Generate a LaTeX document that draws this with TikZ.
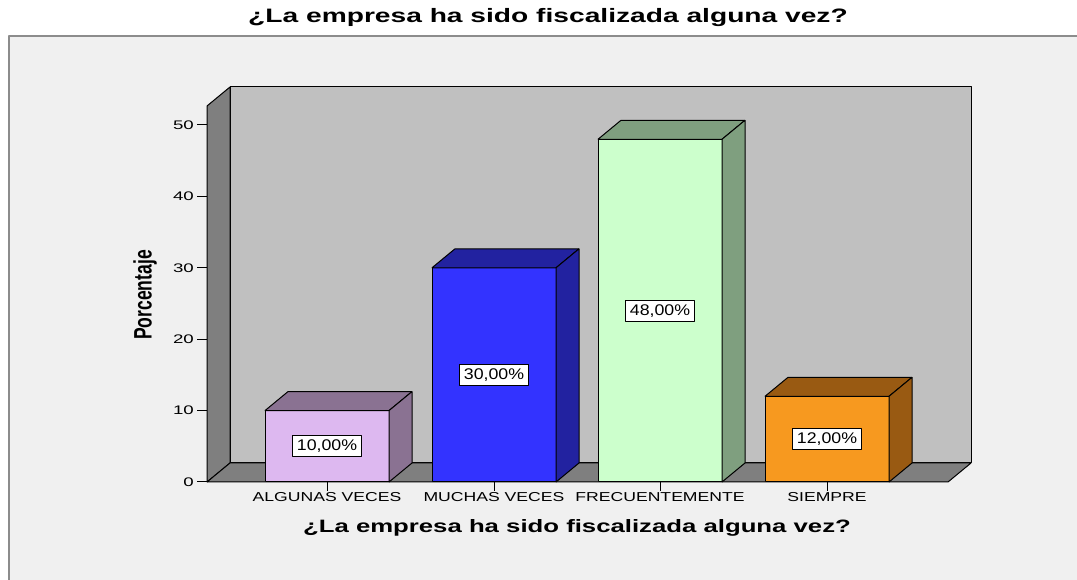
\documentclass[tikz,border=0pt]{standalone}
\usepackage{fontspec}
\setmainfont{Liberation Sans}
\usepackage{graphicx}
\definecolor{panel}{HTML}{F0F0F0}
\definecolor{framegray}{HTML}{8C8C8C}
\definecolor{backwall}{HTML}{C0C0C0}
\definecolor{sidewall}{HTML}{7F7F7F}
\definecolor{algunasfront}{HTML}{DDB8F0}
\definecolor{algunasside}{HTML}{8A7292}
\definecolor{muchasfront}{HTML}{3333FF}
\definecolor{muchasside}{HTML}{2222A0}
\definecolor{frecfront}{HTML}{CCFFCC}
\definecolor{frecside}{HTML}{7F9F7F}
\definecolor{siemprefront}{HTML}{F7991F}
\definecolor{siempreside}{HTML}{995A12}
\begin{document}
\begin{tikzpicture}[line join=bevel,
  edge/.style={draw=black,line width=1bp},
  pctbox/.style={draw=black,fill=white,line width=0.8bp,inner xsep=4bp,inner ysep=0bp,minimum height=21bp,font=\fontsize{15.5}{15.5}\selectfont},
  catlabel/.style={font=\fontsize{13}{13}\selectfont},
  ticklabel/.style={anchor=east,inner sep=0bp,font=\fontsize{12.5}{12.5}\selectfont},
  titlelabel/.style={font=\bfseries\fontsize{19.5}{20}\selectfont}]
%%
\useasboundingbox (0bp,0bp) rectangle (1077bp,580bp);
\fill[white] (0bp,0bp) rectangle (1077bp,580bp);
\fill[panel] (9bp,0bp) rectangle (1077bp,544bp);
\draw[framegray,line width=2bp] (9bp,0bp) -- (9bp,544bp) -- (1077bp,544bp);
%
\node (title) at (548bp,562bp) [titlelabel] {\scalebox{1.45}[1]{¿La empresa ha sido fiscalizada alguna vez?}};
%% walls and floor
\filldraw[edge,fill=backwall] (230bp,117bp) rectangle (971bp,493bp);
\filldraw[edge,fill=sidewall] (207bp,98bp) -- (207bp,474bp) -- (230bp,493bp) -- (230bp,117bp) -- cycle;
\filldraw[edge,fill=sidewall] (207bp,98bp) -- (230bp,117bp) -- (971bp,117bp) -- (948bp,98bp) -- cycle;
%% y axis
\foreach \v in {0,10,...,50} {
  \pgfmathsetmacro\ty{98+7.14*\v}
  \draw[edge] (197bp,\ty bp) -- (207bp,\ty bp);
  \node (ytick\v) at (194bp,\ty bp) [ticklabel] {\scalebox{1.5}[1]{\v}};
}
\node (ylabel) at (145bp,285bp) [rotate=90,titlelabel,font=\bfseries\fontsize{17.6}{18}\selectfont] {\scalebox{1}[1.44]{Porcentaje}};
%% bars
\foreach \i/\xl/\val/\fr/\sd/\pct/\cat in {
    1/265/10/algunasfront/algunasside/{10,00\%}/ALGUNAS VECES,
    2/432/30/muchasfront/muchasside/{30,00\%}/MUCHAS VECES,
    3/598/48/frecfront/frecside/{48,00\%}/FRECUENTEMENTE,
    4/765/12/siemprefront/siempreside/{12,00\%}/SIEMPRE} {
  \pgfmathsetmacro\tp{98+7.14*\val}
  \pgfmathsetmacro\xr{\xl+124}
  \pgfmathsetmacro\xm{\xl+62}
  \pgfmathsetmacro\ym{(98+\tp)/2}
  \filldraw[edge,fill=\fr] (\xl bp,98bp) rectangle (\xr bp,\tp bp);
  \filldraw[edge,fill=\sd] (\xl bp,\tp bp) -- ++(23bp,19bp) -- ++(124bp,0bp) -- (\xr bp,\tp bp) -- cycle;
  \filldraw[edge,fill=\sd] (\xr bp,98bp) -- ++(23bp,19bp) -- ++(0bp,\tp bp-98bp) -- (\xr bp,\tp bp) -- cycle;
  \node (pct\i) at (\xm bp,\ym bp) [pctbox] {\scalebox{1.15}[1]{\pct}};
  \draw[edge] (\xm bp,98bp) -- (\xm bp,89bp);
  \node (cat\i) at (\xm bp,83bp) [catlabel] {\scalebox{1.36}[1]{\cat}};
}
%
\node (xlabel) at (577bp,52bp) [titlelabel,font=\bfseries\fontsize{18}{18}\selectfont] {\scalebox{1.435}[1]{¿La empresa ha sido fiscalizada alguna vez?}};
%
\end{tikzpicture}
\end{document}
